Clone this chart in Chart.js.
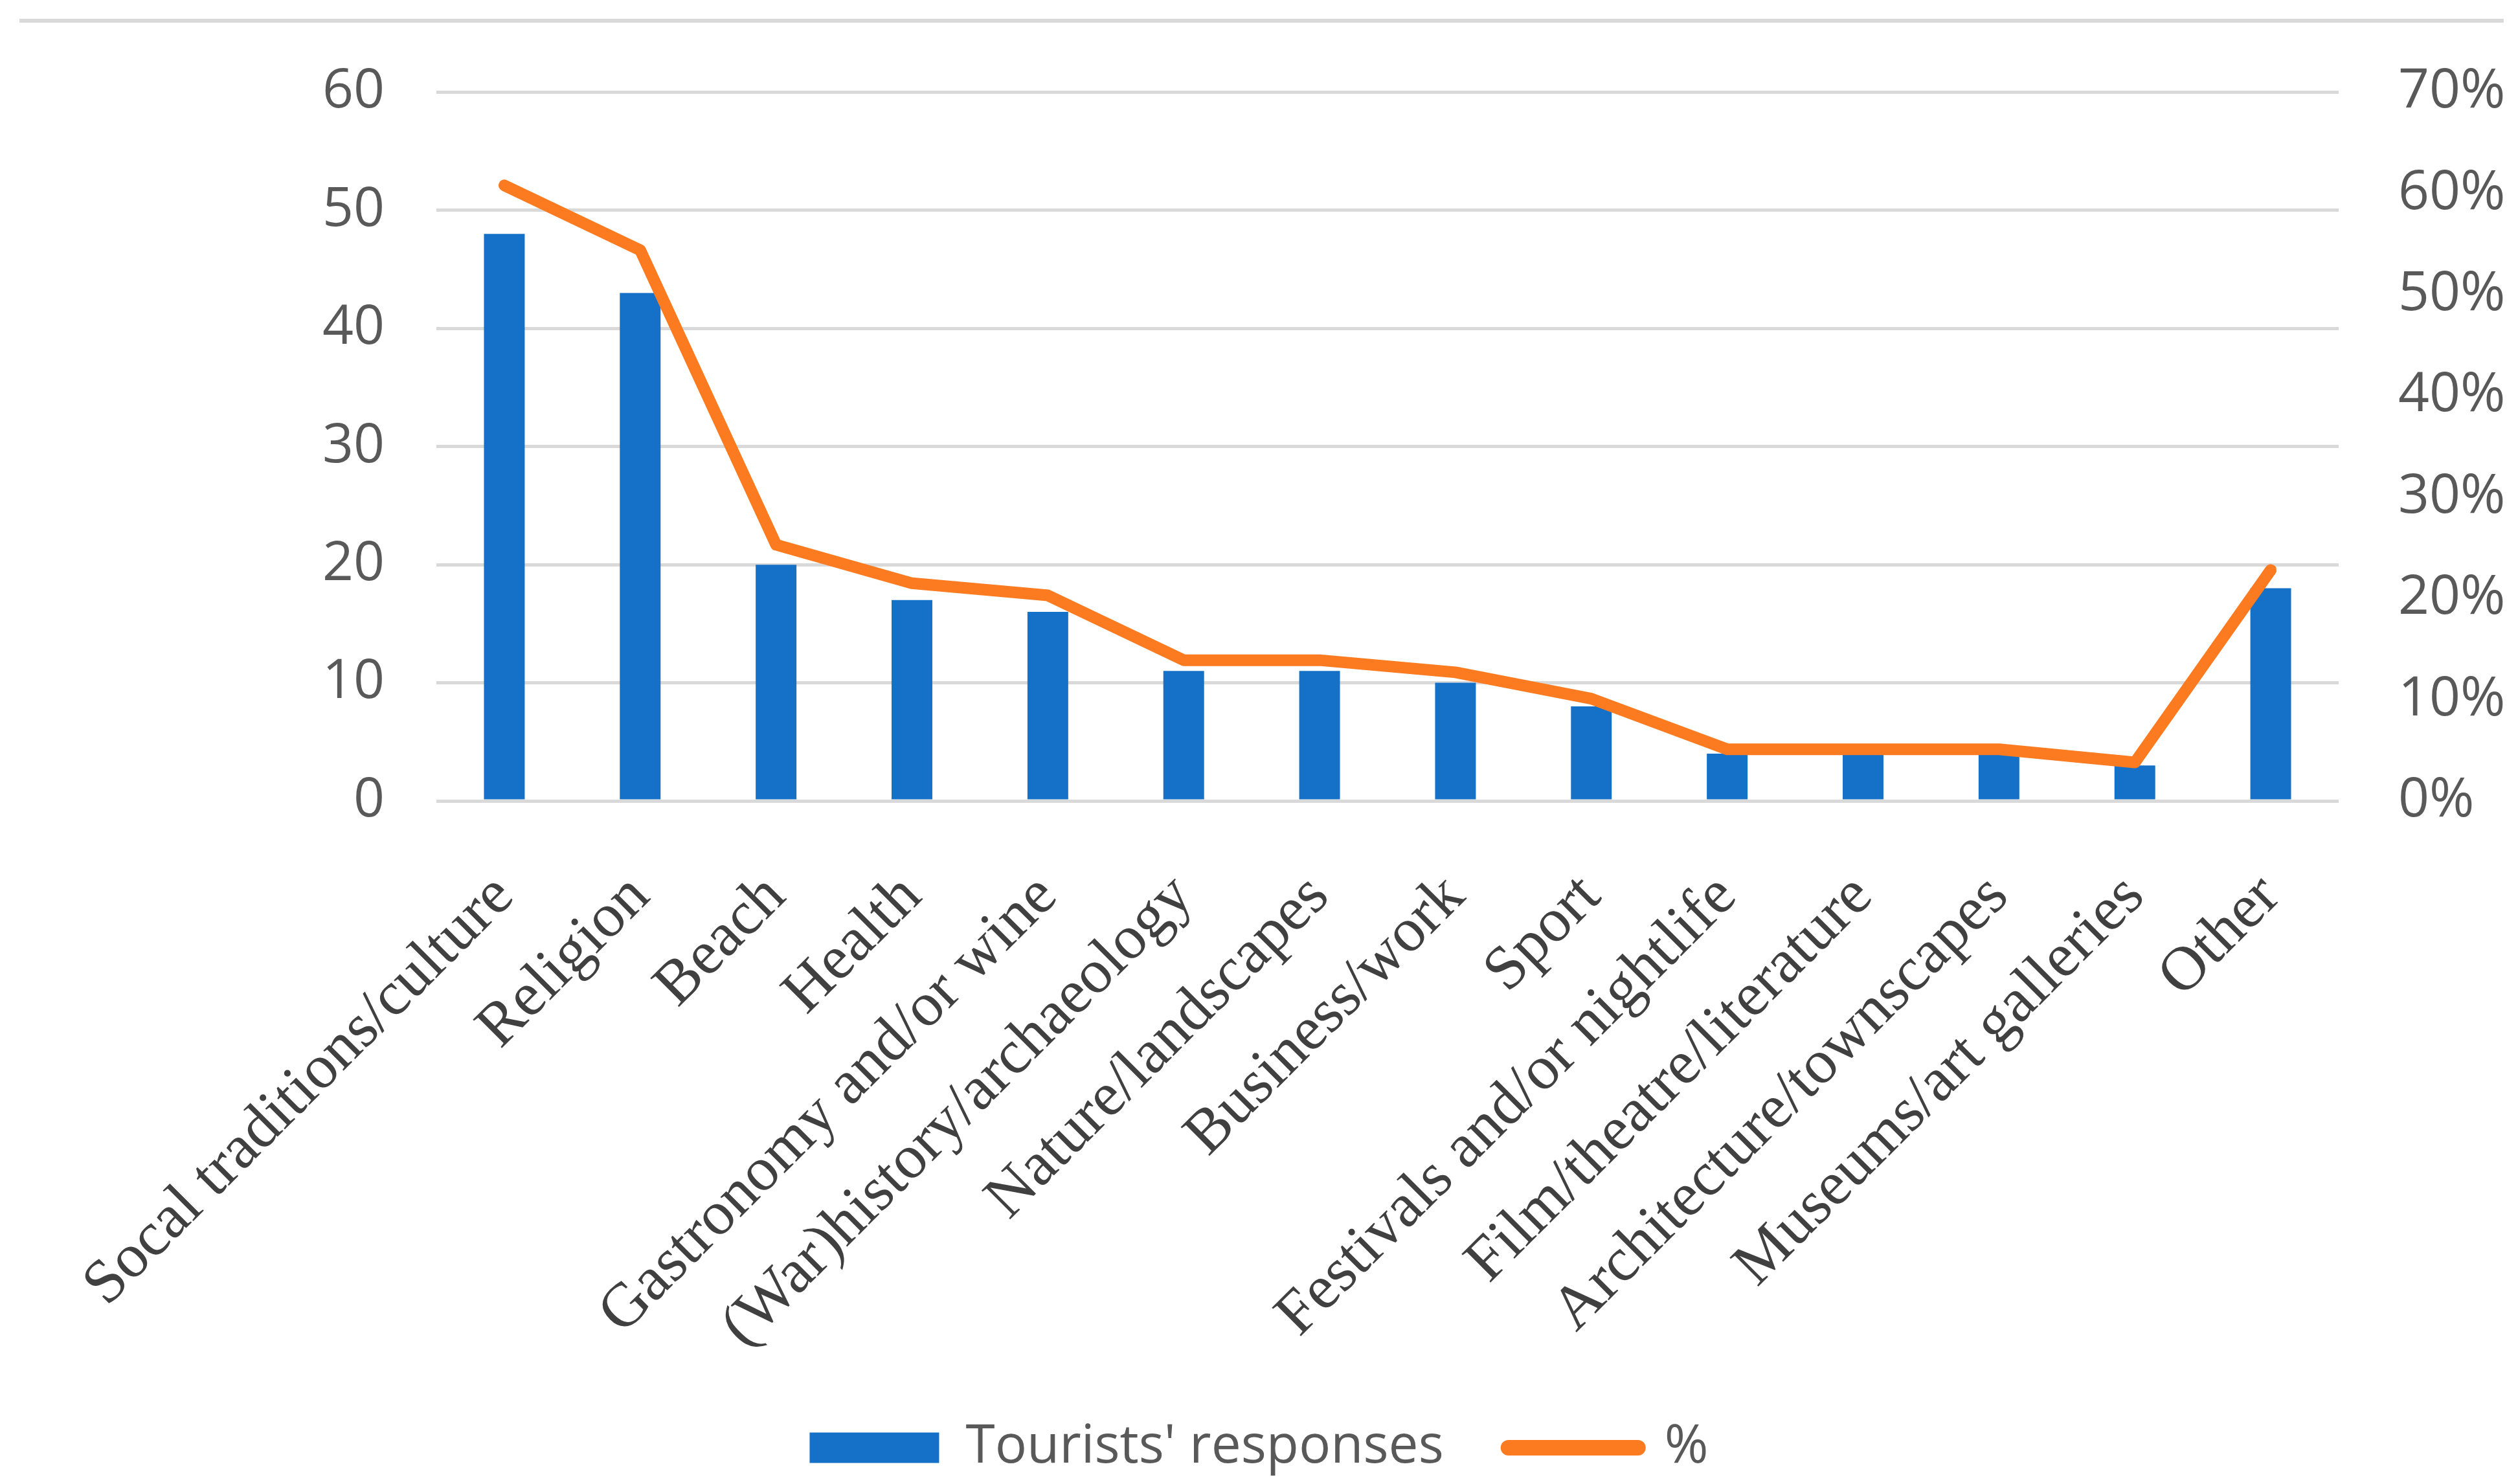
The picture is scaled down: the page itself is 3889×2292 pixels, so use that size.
<!DOCTYPE html>
<html>
<head>
<meta charset="utf-8">
<script src="https://cdn.jsdelivr.net/npm/chart.js@4"></script>
<style>
  body { margin: 0; background: #fff; }
  #wrap { position: relative; width: 3889px; height: 2292px; }
  #topline { position: absolute; left: 30px; top: 29px; width: 3837px; height: 6px; background: #d9d9d9; }
</style>
</head>
<body>
<div id="wrap">
  <div id="topline"></div>
  <canvas id="chart" width="3889" height="2292"></canvas>
</div>
<script>
// data
const categories = [
  'Socal traditions/culture', 'Religion', 'Beach', 'Health', 'Gastronomy and/or wine',
  '(War)history/archaeology', 'Nature/landscapes', 'Business/work', 'Sport',
  'Festivals and/or nightlife', 'Film/theatre/literature', 'Architecture/townscapes',
  'Museums/art galleries', 'Other'
];
const responses = [48, 43, 20, 17, 16, 11, 11, 10, 8, 4, 4, 4, 3, 18];
const percent = [60.8, 54.4, 25.3, 21.5, 20.3, 13.9, 13.9, 12.7, 10.1, 5.1, 5.1, 5.1, 3.8, 22.8];
const leftTicks = [0, 10, 20, 30, 40, 50, 60];
const rightTicks = [0, 10, 20, 30, 40, 50, 60, 70];

const blue = '#1570c8';
const orange = '#fc7b20';
const gridGray = '#d9d9d9';

const ctx = document.getElementById('chart').getContext('2d');
const chart = new Chart(ctx, {
  type: 'bar',
  data: {
    labels: categories,
    datasets: [
      {
        type: 'line',
        label: '%',
        data: percent,
        yAxisID: 'y1',
        borderColor: orange,
        backgroundColor: orange,
        borderWidth: 18,
        borderCapStyle: 'round',
        borderJoinStyle: 'round',
        pointRadius: 0,
        tension: 0
      },
      {
        type: 'bar',
        label: "Tourists' responses",
        data: responses,
        yAxisID: 'y',
        backgroundColor: blue,
        barPercentage: 0.3,
        categoryPercentage: 1
      }
    ]
  },
  options: {
    responsive: false,
    devicePixelRatio: 1,
    animation: false,
    layout: { padding: { top: 138, bottom: 5, left: 0, right: 0 } },
    plugins: {
      tooltip: { enabled: false },
      legend: {
        position: 'bottom',
        reverse: true,
        labels: {
          usePointStyle: true,
          pointStyleWidth: 200,
          boxHeight: 47,
          padding: 100,
          color: '#595959',
          font: { family: 'Open Sans', size: 82 },
          generateLabels: function(chart) {
            const items = Chart.defaults.plugins.legend.labels.generateLabels(chart);
            items.forEach(function(it) {
              if (it.datasetIndex === 0) {
                it.pointStyle = 'line';
                it.lineWidth = 24;
                it.lineCap = 'round';
                it.strokeStyle = orange;
              } else {
                it.pointStyle = 'rect';
                it.lineWidth = 0;
              }
            });
            return items;
          }
        }
      }
    },
    scales: {
      x: {
        grid: { display: false, drawTicks: false },
        border: { display: false },
        ticks: {
          autoSkip: false,
          maxRotation: 45,
          minRotation: 45,
          padding: 92,
          color: '#404040',
          font: { family: 'Liberation Serif', size: 96 }
        },
        afterFit: function(scale) { scale.height = 858; }
      },
      y: {
        position: 'left',
        min: 0,
        max: 60,
        afterBuildTicks: function(scale) { scale.ticks = leftTicks.map(v => ({ value: v })); },
        grid: { color: gridGray, lineWidth: 5, drawTicks: false },
        border: { display: false },
        ticks: {
          padding: 80,
          color: '#595959',
          font: { family: 'Open Sans', size: 84 }
        },
        afterFit: function(scale) { scale.width = 674; }
      },
      y1: {
        position: 'right',
        min: 0,
        max: 70,
        afterBuildTicks: function(scale) { scale.ticks = rightTicks.map(v => ({ value: v })); },
        grid: { display: false, drawTicks: false },
        border: { display: false },
        ticks: {
          padding: 92,
          color: '#595959',
          font: { family: 'Open Sans', size: 84 },
          callback: v => v + '%'
        },
        afterFit: function(scale) { scale.width = 277; }
      }
    }
  }
});
</script>
</body>
</html>
